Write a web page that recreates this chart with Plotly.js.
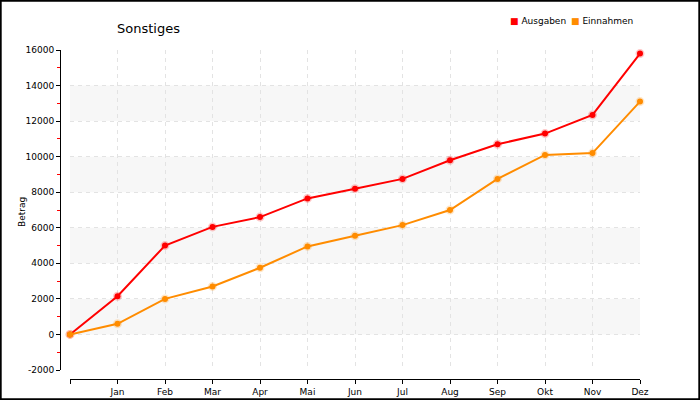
<!DOCTYPE html>
<html><head><meta charset="utf-8">
<script src="https://cdn.plot.ly/plotly-3.0.1.min.js"></script>
<style>html,body{margin:0;padding:0;background:#fff}#chart{width:700px;height:400px}</style>
</head><body><div id="chart"></div>
<script>
const months = ['', 'Jan', 'Feb', 'Mar', 'Apr', 'Mai', 'Jun', 'Jul', 'Aug', 'Sep', 'Okt', 'Nov', 'Dez'];
const ausgaben = [0, 2150, 5000, 6050, 6600, 7650, 8200, 8750, 9800, 10700, 11300, 12350, 15800];
const einnahmen = [0, 600, 2000, 2700, 3750, 4950, 5550, 6150, 7000, 8750, 10100, 10200, 13100];
const seriesNames = ['Ausgaben', 'Einnahmen'];
const seriesColors = ['#ff0000', '#ff8c00'];
const yTicks = [-2000, 0, 2000, 4000, 6000, 8000, 10000, 12000, 14000, 16000];

const xIdx = months.map((_, i) => i);
const font = 'DejaVu Sans, Verdana, sans-serif';

function trace(vals, k) {
  return {
    x: xIdx, y: vals, type: 'scatter', mode: 'lines+markers', name: seriesNames[k],
    line: {color: seriesColors[k], width: 2},
    marker: {color: seriesColors[k], size: 6, symbol: 'circle',
             line: {color: k === 0 ? 'rgba(255,0,0,0.22)' : 'rgba(255,140,0,0.22)', width: 3}},
    cliponaxis: false,
    showlegend: false, hoverinfo: 'x+y'
  };
}

const bands = [];
for (let i = 0; i + 1 < yTicks.length; i++) {
  if (yTicks[i] >= 0 && (yTicks[i] / 2000) % 2 === 0) {
    bands.push({type: 'rect', xref: 'x', yref: 'y', x0: 0, x1: months.length - 1,
      y0: yTicks[i], y1: yTicks[i + 1], fillcolor: '#f7f7f7', line: {width: 0}, layer: 'below'});
  }
}
bands.push({type: 'rect', xref: 'paper', yref: 'paper', x0: 0.001, x1: 0.999, y0: 0.002, y1: 0.998,
  line: {color: '#000', width: 2}, fillcolor: 'rgba(0,0,0,0)'});

const anns = seriesNames.map((n, k) => ({
  xref: 'paper', yref: 'paper', x: [508 / 700, 569 / 700][k], y: 1 - 21 / 400,
  xanchor: 'left', yanchor: 'middle', showarrow: false,
  text: '<span style="color:' + seriesColors[k] + '">■</span> ' + n,
  font: {family: font, size: 9, color: '#000'}
}));
anns.push({xref: 'paper', yref: 'paper', x: 22 / 700, y: 1 - 212 / 400, textangle: -90,
  xanchor: 'center', yanchor: 'middle', showarrow: false, text: 'Betrag',
  font: {family: font, size: 9, color: '#000'}});

const layout = {
  width: 700, height: 400,
  margin: {l: 0, r: 0, t: 0, b: 0},
  paper_bgcolor: '#fff', plot_bgcolor: 'rgba(0,0,0,0)',
  font: {family: font, size: 9, color: '#000'},
  title: {text: 'Sonstiges', x: 117 / 700, xanchor: 'left', xref: 'paper',
          y: 1 - 28 / 400, yanchor: 'middle', yref: 'paper',
          font: {family: font, size: 13, color: '#000'}},
  showlegend: false,
  xaxis: {
    domain: [70 / 700, 640 / 700], range: [0, months.length - 1],
    tickvals: xIdx, ticktext: months,
    anchor: 'free', position: 1 - 379 / 400,
    showline: true, linecolor: '#000', linewidth: 1,
    ticks: 'outside', ticklen: 4, tickcolor: '#000',
    showgrid: true, gridcolor: '#e3e3e3', griddash: '4px,4px', gridwidth: 1,
    zeroline: false, tickfont: {family: font, size: 9, color: '#000'}
  },
  yaxis: {
    domain: [1 - 370 / 400, 1 - 50 / 400], range: [-2000, 16000],
    tickvals: yTicks, ticktext: yTicks.map(String),
    anchor: 'free', position: 60 / 700,
    showline: true, linecolor: '#000', linewidth: 1,
    ticks: 'outside', ticklen: 4, tickcolor: '#000',
    minor: {dtick: 1000, tick0: 1000, ticks: 'outside', ticklen: 3, tickcolor: '#ff0000', showgrid: false},
    showgrid: true, gridcolor: '#e3e3e3', griddash: '4px,4px', gridwidth: 1,
    zeroline: false, tickfont: {family: font, size: 9, color: '#000'}
  },
  shapes: bands,
  annotations: anns
};

Plotly.newPlot('chart', [trace(ausgaben, 0), trace(einnahmen, 1)], layout, {displayModeBar: false, staticPlot: true});
</script></body></html>
